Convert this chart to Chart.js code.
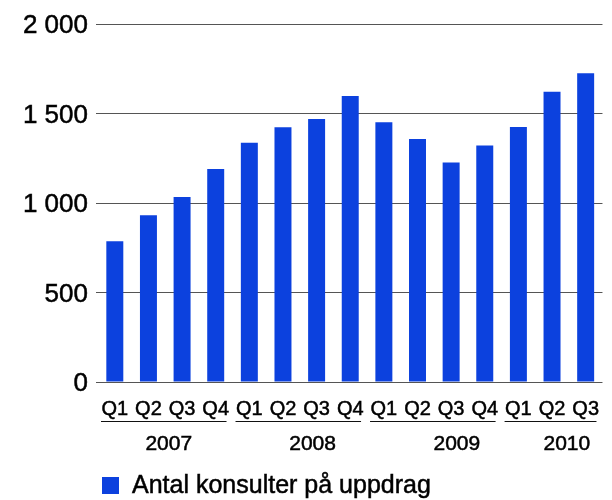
<!DOCTYPE html>
<html>
<head>
<meta charset="utf-8">
<script src="https://cdn.jsdelivr.net/npm/chart.js@4/dist/chart.umd.min.js"></script>
<style>
  html, body { margin: 0; padding: 0; background: #fff; overflow: hidden; }
  #wrap { width: 612px; height: 500px; overflow: hidden; position: relative; }
  #c { position: absolute; left: 0; top: 0; }
</style>
</head>
<body>
<div id="wrap"><canvas id="c" width="614" height="500"></canvas></div>
<script>
// ---- data ----
const quarters = ['Q1','Q2','Q3','Q4','Q1','Q2','Q3','Q4','Q1','Q2','Q3','Q4','Q1','Q2','Q3'];
const years = ['2007', '2008', '2009', '2010'];
const yearSizes = [4, 4, 4, 3];
const consultants = [787, 931, 1034, 1190, 1337, 1423, 1469, 1598, 1451, 1358, 1226, 1321, 1425, 1622, 1725];
const seriesLabel = 'Antal konsulter på uppdrag';
const yTicks = [0, 500, 1000, 1500, 2000];

const FONT = '"Liberation Sans", Arial, Helvetica, sans-serif';
const BLUE = '#0c41de';
const STROKE = 0.5;

const groupPlugin = {
  id: 'groupAndLegend',
  afterDraw(chart, args, opts) {
    const ctx = chart.ctx;
    const xs = chart.scales.x;
    const cw = xs.getPixelForValue(1) - xs.getPixelForValue(0);
    ctx.save();
    let idx = 0;
    years.forEach((yr, g) => {
      const n = yearSizes[g];
      const left = xs.getPixelForValue(idx) - cw / 2 + 3;
      const span = Math.max(n, 4);
      const right = xs.getPixelForValue(idx + n - 1) + cw / 2 - 6;
      ctx.strokeStyle = '#111';
      ctx.lineWidth = 1;
      ctx.beginPath();
      ctx.moveTo(left, opts.lineY);
      ctx.lineTo(right, opts.lineY);
      ctx.stroke();
      const center = xs.getPixelForValue(idx) - cw / 2 + span * cw / 2 + opts.yearShift[g];
      ctx.fillStyle = '#000';
      ctx.strokeStyle = '#000';
      ctx.lineWidth = STROKE;
      ctx.font = '21px ' + FONT;
      ctx.textAlign = 'center';
      ctx.textBaseline = 'alphabetic';
      ctx.fillText(yr, center, opts.yearBaseline);
      ctx.strokeText(yr, center, opts.yearBaseline);
      idx += n;
    });
    // legend
    ctx.fillStyle = BLUE;
    ctx.fillRect(opts.legendX, opts.legendY, 17, 17);
    ctx.fillStyle = '#000';
    ctx.strokeStyle = '#000';
    ctx.lineWidth = STROKE;
    ctx.font = '25px ' + FONT;
    ctx.textAlign = 'left';
    ctx.textBaseline = 'alphabetic';
    const lbl = chart.data.datasets[0].label;
    ctx.fillText(lbl, opts.legendX + 30, opts.legendY + 16);
    ctx.strokeText(lbl, opts.legendX + 30, opts.legendY + 16);
    ctx.restore();
  }
};

new Chart(document.getElementById('c'), {
  type: 'bar',
  data: {
    labels: quarters,
    datasets: [{
      label: seriesLabel,
      data: consultants,
      backgroundColor: BLUE,
      borderWidth: 0,
      categoryPercentage: 1.0,
      barPercentage: 0.505
    }]
  },
  options: {
    responsive: false,
    animation: false,
    devicePixelRatio: 1,
    layout: { padding: { top: 24, right: 0, bottom: 0, left: 0 } },
    plugins: {
      legend: { display: false },
      tooltip: { enabled: false },
      groupAndLegend: {
        lineY: 421.5,
        yearBaseline: 450,
        yearShift: [3.5, 12.8, 22.5, -2],
        legendX: 102,
        legendY: 477
      }
    },
    scales: {
      x: {
        grid: { display: false, drawTicks: false },
        border: { display: false },
        ticks: {
          color: '#000',
          font: { family: FONT, size: 20 },
          padding: 15,
          maxRotation: 0,
          autoSkip: false,
          textStrokeColor: '#000',
          textStrokeWidth: STROKE
        },
        afterFit(s) { s.height = 118; }
      },
      y: {
        min: 0,
        max: 2000,
        afterBuildTicks(s) { s.ticks = yTicks.map(v => ({ value: v })); },
        grid: { color: '#555', lineWidth: 1, drawTicks: true, tickLength: 2 },
        border: { display: false },
        ticks: {
          color: '#000',
          font: { family: FONT, size: 26 },
          padding: 8,
          labelOffset: 2,
          textStrokeColor: '#000',
          textStrokeWidth: STROKE,
          callback: v => String(v).replace(/\B(?=(\d{3})+(?!\d))/g, ' ')
        },
        afterFit(s) { s.width = 98; }
      }
    }
  },
  plugins: [groupPlugin]
});
</script>
</body>
</html>
